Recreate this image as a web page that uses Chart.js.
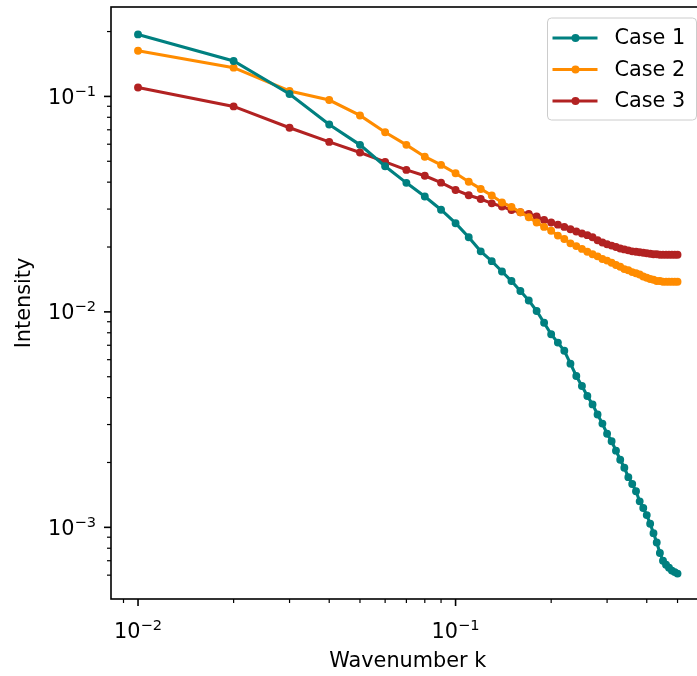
<!DOCTYPE html>
<html>
<head>
<meta charset="utf-8">
<script src="https://cdn.jsdelivr.net/npm/chart.js@4.4.1/dist/chart.umd.min.js"></script>
<style>
  html, body { margin: 0; padding: 0; background: #fff; overflow: hidden; }
  #wrap { width: 697px; height: 676px; overflow: hidden; }
</style>
</head>
<body>
<div id="wrap"><canvas id="spectrum" width="710" height="676"></canvas></div>
<script>
const FONT = 'DejaVu Sans';

const k = [0.01, 0.02, 0.03, 0.04, 0.05, 0.06, 0.07, 0.08, 0.09, 0.10,
           0.11, 0.12, 0.13, 0.14, 0.15, 0.16, 0.17, 0.18, 0.19, 0.20,
           0.21, 0.22, 0.23, 0.24, 0.25, 0.26, 0.27, 0.28, 0.29, 0.30,
           0.31, 0.32, 0.33, 0.34, 0.35, 0.36, 0.37, 0.38, 0.39, 0.40,
           0.41, 0.42, 0.43, 0.44, 0.45, 0.46, 0.47, 0.48, 0.49, 0.50];

const case1 = [0.194, 0.146, 0.1026, 0.0741, 0.0596, 0.0474, 0.0397, 0.0343, 0.0298, 0.0258,
               0.0222, 0.0191, 0.0172, 0.0154, 0.0139, 0.0125, 0.0113, 0.0101, 0.0089, 0.00787,
               0.00720, 0.00660, 0.00575, 0.00504, 0.00453, 0.00407, 0.00372, 0.00334, 0.00303, 0.00272,
               0.00251, 0.00227, 0.00206, 0.00189, 0.00171, 0.00159, 0.00147, 0.00132, 0.00123, 0.00114,
               0.00104, 0.00094, 0.00085, 0.00076, 0.00070, 0.00067, 0.00065, 0.00063, 0.00062, 0.00061];

const case2 = [0.163, 0.136, 0.106, 0.0962, 0.0816, 0.0682, 0.0596, 0.0525, 0.0481, 0.0440,
               0.0402, 0.0372, 0.0347, 0.0322, 0.0307, 0.0290, 0.0275, 0.0260, 0.0248, 0.0238,
               0.0226, 0.0218, 0.0208, 0.0202, 0.0196, 0.0190, 0.0185, 0.0181, 0.0176, 0.0173,
               0.0169, 0.0165, 0.0162, 0.0158, 0.0156, 0.0153, 0.0151, 0.0149, 0.0146, 0.0144,
               0.0142, 0.0141, 0.0139, 0.0139, 0.0138, 0.0138, 0.0138, 0.0138, 0.0138, 0.0138];

const case3 = [0.110, 0.0899, 0.0715, 0.0615, 0.0549, 0.0497, 0.0456, 0.0428, 0.0398, 0.0368,
               0.0348, 0.0334, 0.0319, 0.0308, 0.0297, 0.0290, 0.0285, 0.0277, 0.0267, 0.0260,
               0.0254, 0.0248, 0.0242, 0.0236, 0.0231, 0.0227, 0.0222, 0.0215, 0.0210, 0.0206,
               0.0203, 0.0200, 0.0197, 0.0195, 0.0193, 0.0191, 0.0190, 0.0189, 0.0188, 0.0187,
               0.0186, 0.0185, 0.0185, 0.0184, 0.0184, 0.0184, 0.0184, 0.0184, 0.0184, 0.0184];

const seriesNames = ['Case 1', 'Case 2', 'Case 3'];
const seriesColors = ['#008080', '#ff8c00', '#b22222'];

// decade tick labels: base "10" plus exponent
const xTickValues = [0.01, 0.1];
const xTickExps = ['\u22122', '\u22121'];
const yTickValues = [0.001, 0.01, 0.1];
const yTickExps = ['\u22123', '\u22122', '\u22121'];

const X_MIN = 0.00822, X_MAX = 0.608;
const Y_MIN = 0.000465, Y_MAX = 0.26;

function isLogTick(v) {
    const m = v / Math.pow(10, Math.floor(Math.log10(v) + 1e-9));
    return Math.abs(m - Math.round(m)) < 1e-6 ? Math.round(m) : 0;
}

const axesPlugin = {
    id: 'mplAxes',
    afterDatasetsDraw(chart) {
        const ctx = chart.ctx;
        const a = chart.chartArea;
        const xs = chart.scales.x, ys = chart.scales.y;
        ctx.save();
        ctx.strokeStyle = '#000';
        // tick marks
        xs.ticks.forEach(t => {
            const m = isLogTick(t.value);
            if (!m) return;
            const px = xs.getPixelForValue(t.value);
            ctx.lineWidth = m === 1 ? 1.6 : 1.2;
            ctx.beginPath();
            ctx.moveTo(px, a.bottom);
            ctx.lineTo(px, a.bottom + (m === 1 ? 7 : 4));
            ctx.stroke();
        });
        ys.ticks.forEach(t => {
            const m = isLogTick(t.value);
            if (!m) return;
            const py = ys.getPixelForValue(t.value);
            ctx.lineWidth = m === 1 ? 1.6 : 1.2;
            ctx.beginPath();
            ctx.moveTo(a.left, py);
            ctx.lineTo(a.left - (m === 1 ? 7 : 4), py);
            ctx.stroke();
        });
        // spines
        ctx.lineWidth = 1.6;
        ctx.strokeRect(a.left, a.top, a.right - a.left, a.bottom - a.top);

        // tick labels
        ctx.fillStyle = '#000';
        ctx.textBaseline = 'alphabetic';
        const base = '20.8px "' + FONT + '"';
        const sup = '14.6px "' + FONT + '"';
        xTickValues.forEach((v, i) => {
            const px = xs.getPixelForValue(v);
            ctx.font = base;
            const w1 = ctx.measureText('10').width;
            ctx.font = sup;
            const w2 = ctx.measureText(xTickExps[i]).width;
            const x0 = px - (w1 + w2) / 2;
            const yb = a.bottom + 39;
            ctx.font = base;
            ctx.fillText('10', x0, yb);
            ctx.font = sup;
            ctx.fillText(xTickExps[i], x0 + w1, yb - 8);
        });
        yTickValues.forEach((v, i) => {
            const py = ys.getPixelForValue(v);
            ctx.font = base;
            const w1 = ctx.measureText('10').width;
            ctx.font = sup;
            const w2 = ctx.measureText(yTickExps[i]).width;
            const x1 = a.left - 15;
            const x0 = x1 - w1 - w2;
            ctx.font = base;
            ctx.fillText('10', x0, py + 7.5);
            ctx.font = sup;
            ctx.fillText(yTickExps[i], x0 + w1, py - 0.5);
        });
        ctx.restore();
    },
    afterDraw(chart) {
        // legend box in the upper right corner
        const ctx = chart.ctx;
        const a = chart.chartArea;
        const right = a.right - 8, top = a.top + 11;
        const w = 149, h = 102;
        const left = right - w;
        ctx.save();
        ctx.beginPath();
        ctx.roundRect(left, top, w, h, 4);
        ctx.fillStyle = 'rgba(255,255,255,0.8)';
        ctx.fill();
        ctx.strokeStyle = '#cccccc';
        ctx.lineWidth = 1;
        ctx.stroke();
        ctx.font = '20.8px "' + FONT + '"';
        ctx.textBaseline = 'middle';
        chart.data.datasets.forEach((ds, i) => {
            const y = top + 20 + i * 31.5;
            ctx.strokeStyle = ds.borderColor;
            ctx.lineWidth = 3.1;
            ctx.beginPath();
            ctx.moveTo(left + 5, y);
            ctx.lineTo(left + 50, y);
            ctx.stroke();
            ctx.fillStyle = ds.borderColor;
            ctx.beginPath();
            ctx.arc(left + 28, y, 4, 0, Math.PI * 2);
            ctx.fill();
            ctx.fillStyle = '#000';
            ctx.fillText(ds.label, left + 67, y + 1);
        });
        ctx.restore();
    }
};

const series = [case1, case2, case3];
const datasets = series.map((vals, i) => ({
    label: seriesNames[i],
    data: k.map((x, j) => ({ x: x, y: vals[j] })),
    borderColor: seriesColors[i],
    backgroundColor: seriesColors[i],
    pointBackgroundColor: seriesColors[i],
    pointBorderColor: seriesColors[i],
    borderWidth: 3.1,
    pointRadius: 3.2,
    pointBorderWidth: 1.5,
    tension: 0,
    fill: false
}));

Chart.defaults.font.family = FONT;
Chart.defaults.color = '#000';

const ctx = document.getElementById('spectrum').getContext('2d');
const chart = new Chart(ctx, {
    type: 'line',
    data: { datasets: datasets },
    options: {
        responsive: false,
        animation: false,
        layout: { padding: { left: 0, top: 7, right: 2, bottom: 0 } },
        plugins: { legend: { display: false }, tooltip: { enabled: false } },
        scales: {
            x: {
                type: 'logarithmic',
                min: X_MIN,
                max: X_MAX,
                grid: { display: false },
                border: { display: false },
                ticks: { display: false, autoSkip: false },
                title: {
                    display: true, text: 'Wavenumber k', color: '#000',
                    font: { family: FONT, size: 20.8 },
                    padding: { top: 0, bottom: 1.5 }
                },
                afterFit: s => { s.height = 77; }
            },
            y: {
                type: 'logarithmic',
                min: Y_MIN,
                max: Y_MAX,
                grid: { display: false },
                border: { display: false },
                ticks: { display: false, autoSkip: false },
                title: {
                    display: true, text: 'Intensity', color: '#000',
                    font: { family: FONT, size: 20.8 },
                    padding: { top: 12.5, bottom: 0 }
                },
                afterFit: s => { s.width = 111; }
            }
        }
    },
    plugins: [axesPlugin]
});
</script>
</body>
</html>
